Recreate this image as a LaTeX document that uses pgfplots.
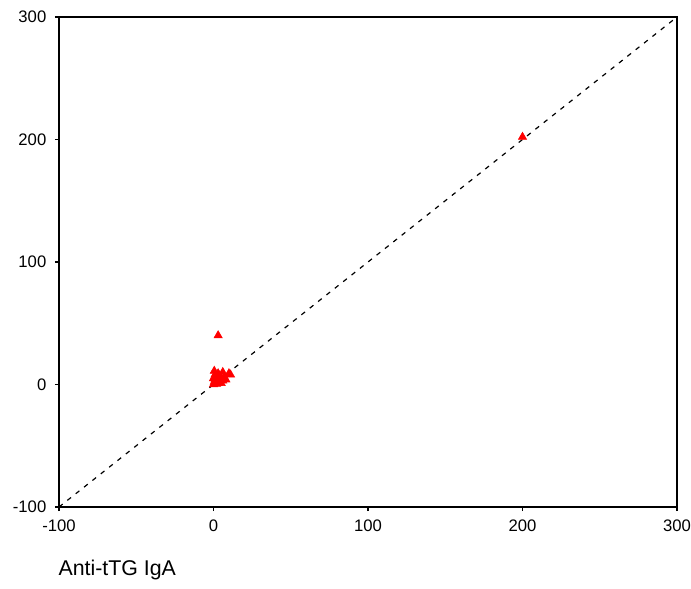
\documentclass[border=0pt]{standalone}
\usepackage{pgfplots}
\pgfplotsset{compat=1.18}
\usepackage{fontspec}
\setmainfont{Liberation Sans}
\begin{document}
\begin{tikzpicture}
\begin{axis}[
  scale only axis,
  width=463.5pt, height=367.5pt,
  xmin=-100, xmax=300, ymin=-100, ymax=300,
  xtick={-100,0,100,200,300}, ytick={-100,0,100,200,300},
  tick align=outside, major tick length=3pt,
  xtick pos=bottom, ytick pos=left,
  axis line style={line width=1pt},
  tick style={line width=0.8pt, black},
  tick label style={font=\fontsize{12.5pt}{14pt}\selectfont},
  /pgf/number format/assume math mode=true,
  xticklabel style={yshift=-3pt},
  yticklabel style={xshift=-3pt},
]
\addplot[black, line width=0.9pt, dash pattern=on 3.5pt off 4.5pt] coordinates {(-100,-100) (300,300)};
\addplot[only marks, mark=triangle*, mark size=3.6pt, color=red, fill=red] coordinates {
(0,0) (0.5,2) (1,4) (1,8) (0.5,11) (2,6) (3,9) (2,3) (4,2) (5,5) (6,10) (7,6) (8,4)
(10,9) (11,8) (3,1) (1,1) (2,0.5) (0,5) (4,7) (5,1) (6,3) (3,40) (200,202)
};
\coordinate (sw) at (rel axis cs:0,0);
\coordinate (ne) at (rel axis cs:1,1);
\end{axis}
\node[anchor=base west, font=\fontsize{16pt}{18pt}\selectfont, inner sep=0pt] at ([xshift=-0.5pt,yshift=-51pt]sw) {Anti-tTG IgA};
\pgfresetboundingbox
\useasboundingbox ([xshift=-44.25pt,yshift=-60.75pt]sw) rectangle ([xshift=10.5pt,yshift=12.75pt]ne);
\end{tikzpicture}
\end{document}
